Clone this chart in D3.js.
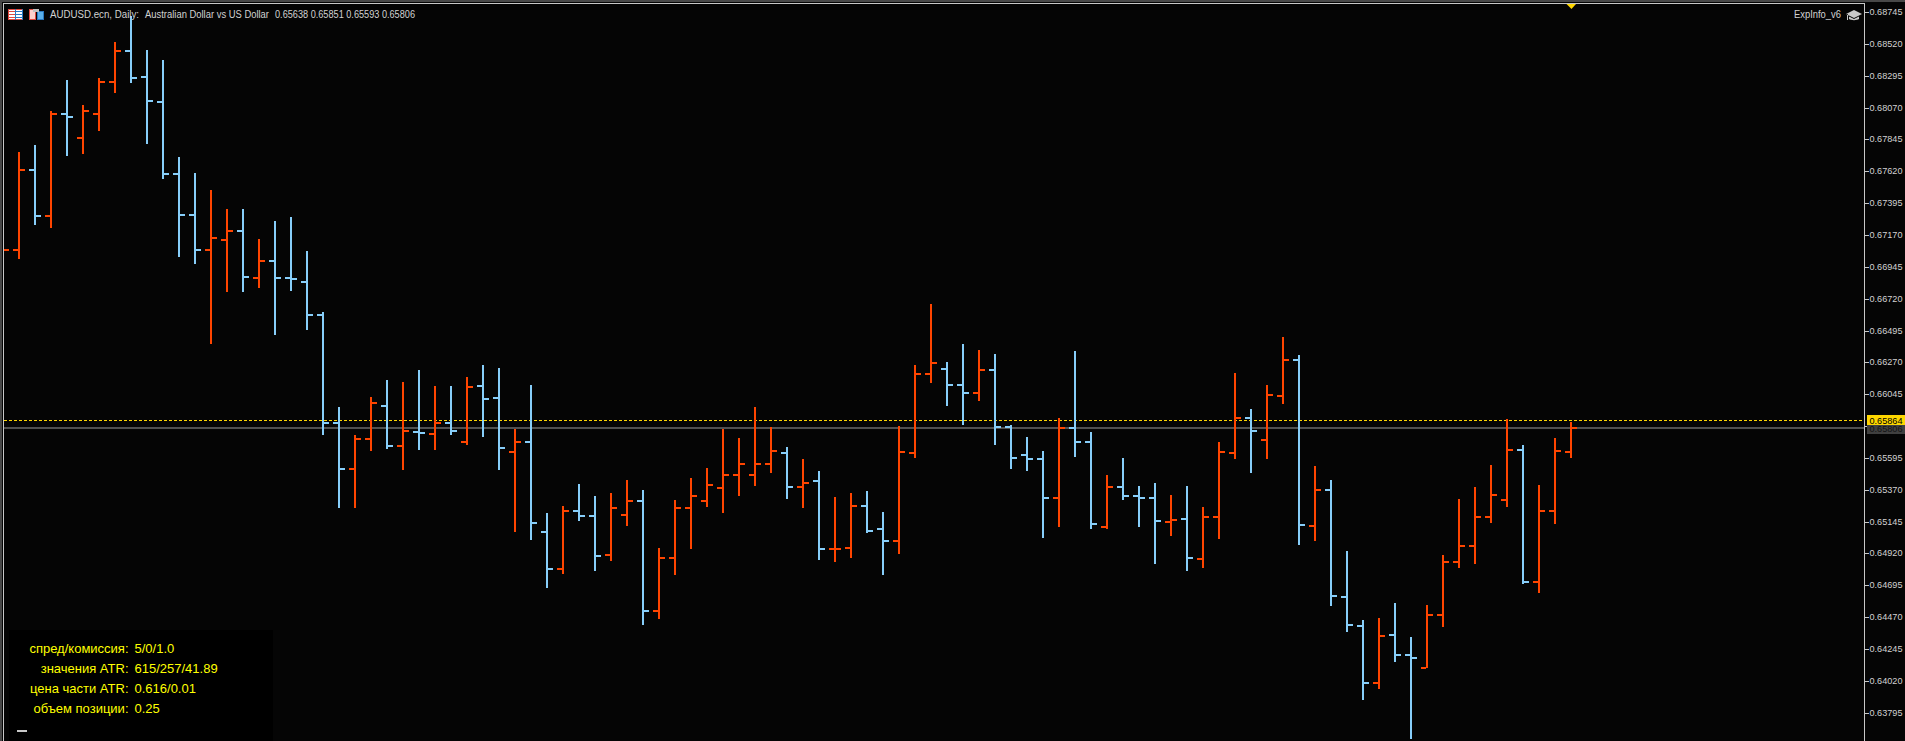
<!DOCTYPE html>
<html><head><meta charset="utf-8">
<script src="https://cdn.jsdelivr.net/npm/d3@7/dist/d3.min.js"></script>
<style>html,body{margin:0;padding:0;background:#050505;overflow:hidden}svg{display:block}</style>
</head><body><svg id="c" width="1905" height="741"></svg>
<script>
const opens=[.67000,.67064,.67629,.67304,.68025,.67855,.68025,.68251,.68470,.68287,.68110,.67601,.67311,.67064,.67135,.67198,.66866,.66986,.66866,.66838,.66605,
.65841,.65516,.65728,.65961,.65679,.65778,.65764,.65841,.65707,.66103,.66018,.65636,.65707,.65071,.64810,.65219,.65184,.64908,.65191,.65290,.64513,.64887,.65241,.65290,.65382,.65474,.65474,.65552,.65629,
.65389,.65431,.64951,.64958,.65255,.65092,.65007,.65629,.66188,.66223,.66110,.66053,.66216,.65813,.65615,.65587,.65311,.65806,.65707,.65106,.65389,.65325,.65311,.65142,.65163,.64880,.65177,.65629,.65877,.65721,.66032,.66287,
.65113,.65368,.64612,.64407,.64004,.64343,.64202,.64110,.64484,.64859,.64972,.65177,.65297,.65651,.64718,.65219,.65638];
const highs=[.67100,.67757,.67806,.68046,.68265,.68089,.68279,.68534,.68718,.68477,.68407,.67721,.67608,.67488,.67354,.67354,.67142,.67269,.67297,.67057,.66626,
.65954,.65757,.66025,.66145,.66131,.66216,.66103,.66103,.66166,.66251,.66230,.65799,.66110,.65205,.65255,.65410,.65325,.65347,.65439,.65368,.64958,.65297,.65453,.65523,.65799,.65735,.65954,.65813,.65672,
.65587,.65502,.65318,.65347,.65361,.65212,.65820,.66251,.66682,.66272,.66400,.66357,.66329,.65827,.65742,.65643,.65877,.66350,.65778,.65474,.65594,.65396,.65417,.65333,.65396,.65248,.65707,.66195,.65940,.66110,.66449,.66322,
.65537,.65439,.64937,.64449,.64463,.64569,.64329,.64555,.64908,.65304,.65389,.65545,.65870,.65686,.65403,.65735,.65851];
const lows=[.66950,.67000,.67241,.67219,.67728,.67742,.67905,.68173,.68244,.67813,.67566,.67014,.66965,.66400,.66767,.66767,.66795,.66463,.66774,.66499,.65757,
.65241,.65241,.65643,.65658,.65509,.65651,.65651,.65757,.65686,.65742,.65509,.65071,.65015,.64675,.64774,.65149,.64795,.64866,.65113,.64414,.64456,.64767,.64951,.65248,.65205,.65325,.65396,.65488,.65304,
.65241,.64873,.64859,.64887,.65064,.64767,.64916,.65594,.66124,.65961,.65827,.65997,.65686,.65516,.65502,.65029,.65106,.65601,.65092,.65092,.65297,.65106,.64845,.65043,.64795,.64817,.65022,.65587,.65488,.65587,.65976,.64979,
.65007,.64548,.64364,.63884,.63962,.64152,.63608,.64110,.64400,.64817,.64845,.65135,.65248,.64704,.64640,.65128,.65593];
const closes=[.67064,.67629,.67304,.68025,.68004,.68046,.68251,.68470,.68279,.68117,.67601,.67311,.67064,.67149,.67198,.66873,.66986,.66866,.66859,.66605,.65841,
.65516,.65728,.65983,.65679,.65785,.65771,.65841,.65785,.66096,.66011,.65665,.65707,.65135,.64810,.65219,.65184,.64901,.65241,.65290,.64513,.64887,.65241,.65325,.65403,.65474,.65552,.65552,.65643,.65389,
.65417,.64951,.64951,.65255,.65078,.65007,.65636,.66188,.66265,.66110,.66053,.66216,.65813,.65594,.65587,.65311,.65806,.65707,.65128,.65389,.65325,.65311,.65149,.65156,.64887,.65177,.65636,.65877,.65785,.66039,.66287,.65121,
.65368,.64619,.64414,.64004,.64336,.64202,.64181,.64484,.64859,.64972,.65177,.65333,.65651,.64718,.65219,.65643,.65806];
const priceTicks=[.68745,.68520,.68295,.68070,.67845,.67620,.67395,.67170,.66945,.66720,.66495,.66270,.66045,.65820,.65595,.65370,.65145,.64920,.64695,.64470,.64245,.64020,.63795];
const askPrice=.65864, bidPrice=.65806;
const headerSymbol="AUDUSD.ecn, Daily:", headerName="Australian Dollar vs US Dollar", headerOhlc="0.65638 0.65851 0.65593 0.65806", expertName="ExpInfo_v6";
const panelLabels=["спред/комиссия:","значения ATR:","цена части ATR:","объем позиции:"];
const panelValues=["5/0/1.0","615/257/41.89","0.616/0.01","0.25"];

const UP="#FF4500",DOWN="#87CEFA",GRID="#c8c8c8",TXT="#d2d2d2",GOLD="#FFD700",SANS="'Liberation Sans'";
const W=1905,H=741,right=1864;
const svg=d3.select("#c");
svg.append("rect").attr("width",W).attr("height",H).attr("fill","#050505");

const x=d3.scaleLinear().domain([0,opens.length-1]).range([3,1571]);
const y=d3.scaleLinear().domain([priceTicks[0],priceTicks[priceTicks.length-1]]).range([12.1,712.6]);
const bars=opens.map((o,i)=>({i,o,h:highs[i],l:lows[i],c:closes[i]}));

svg.append("defs").append("clipPath").attr("id","plot").append("rect").attr("x",4).attr("y",4).attr("width",right-4).attr("height",H-4);
const plot=svg.append("g").attr("clip-path","url(#plot)").attr("shape-rendering","crispEdges");

// price lines sit under the bars
plot.append("rect").attr("x",4).attr("width",right-4).attr("y",Math.round(y(bidPrice))-1).attr("height",2).attr("fill","#505050");
plot.append("line").attr("x1",4).attr("x2",right).attr("y1",Math.round(y(askPrice))+.5).attr("y2",Math.round(y(askPrice))+.5)
  .attr("stroke",GOLD).attr("stroke-width",1).attr("stroke-dasharray","3,2");

const g=plot.selectAll("g.bar").data(bars).join("g").attr("class","bar").attr("fill",d=>d.c>=d.o?UP:DOWN);
g.append("rect").attr("x",d=>x(d.i)-1).attr("width",2).attr("y",d=>Math.round(y(d.h))).attr("height",d=>Math.round(y(d.l))-Math.round(y(d.h)));
g.append("rect").attr("x",d=>x(d.i)-6).attr("width",5).attr("y",d=>Math.round(y(d.o))-1).attr("height",2);
g.append("rect").attr("x",d=>x(d.i)+1).attr("width",5).attr("y",d=>Math.round(y(d.c))-1).attr("height",2);

// frame
const f=svg.append("g").attr("shape-rendering","crispEdges");
f.append("rect").attr("x",0).attr("y",0).attr("width",W).attr("height",2).attr("fill","#484848");
f.append("rect").attr("x",0).attr("y",0).attr("width",2).attr("height",H).attr("fill","#484848");
f.append("rect").attr("x",3).attr("y",3).attr("width",right-3+1).attr("height",1).attr("fill",GRID);
f.append("rect").attr("x",3).attr("y",3).attr("width",1).attr("height",H-3).attr("fill",GRID);
f.append("rect").attr("x",right).attr("y",3).attr("width",1).attr("height",H-3).attr("fill",GRID);

function txt(parent,s,px,py,len,opt={}){
  const t=parent.append("text").attr("x",px).attr("y",py).text(s)
    .attr("font-family",opt.font||SANS).attr("font-size",opt.size||9.8).attr("fill",opt.fill||TXT)
    .attr("text-anchor",opt.anchor||"start");
  if(len) t.attr("textLength",len).attr("lengthAdjust","spacingAndGlyphs");
  return t;
}

// price axis
const axis=svg.append("g");
axis.selectAll("rect").data(priceTicks).join("rect").attr("x",right+1).attr("width",4).attr("height",1)
  .attr("y",d=>Math.round(y(d))).attr("fill",GRID).attr("shape-rendering","crispEdges");
priceTicks.filter(p=>p!==.65820).forEach(p=>txt(axis,p.toFixed(5),1869.5,Math.round(y(p))+3,33));

// price labels
const lab=svg.append("g");
lab.append("rect").attr("x",1867).attr("y",Math.round(y(bidPrice))-3).attr("width",38).attr("height",9).attr("fill","#404040").attr("shape-rendering","crispEdges");
txt(lab,bidPrice.toFixed(5),1869.5,Math.round(y(bidPrice))+4,33,{fill:"#141414"});
lab.append("rect").attr("x",1867).attr("y",Math.round(y(askPrice))-5).attr("width",38).attr("height",10).attr("fill",GOLD).attr("shape-rendering","crispEdges");
txt(lab,askPrice.toFixed(5),1869.5,Math.round(y(askPrice))+4,33,{fill:"#000"});

// current-bar marker
svg.append("path").attr("d",`M${x(98)-4.5},4H${x(98)+5}L${x(98)+.5},9Z`).attr("fill",GOLD);

// header
const hd=svg.append("g");
function icon(ix,col1,col2){
  const a=hd.append("g").attr("shape-rendering","crispEdges");
  a.append("rect").attr("x",ix+.5).attr("y",9.5).attr("width",14).attr("height",10).attr("fill","#fff").attr("stroke",col1);
  a.append("rect").attr("x",ix+8).attr("y",10).attr("width",6).attr("height",9).attr("fill","#fff");
  [12,15,18].forEach(v=>{a.append("rect").attr("x",ix+1).attr("y",v-1).attr("width",6).attr("height",1).attr("fill",col1);
    a.append("rect").attr("x",ix+8).attr("y",v-1).attr("width",6).attr("height",1).attr("fill",col2);});
  a.append("rect").attr("x",ix+7).attr("y",9).attr("width",1).attr("height",11).attr("fill",col2);
  a.append("rect").attr("x",ix+14).attr("y",9).attr("width",1).attr("height",11).attr("fill",col2);
}
icon(8,"#e04a40","#2a78c0");
const i2=hd.append("g").attr("shape-rendering","crispEdges");
i2.append("rect").attr("x",29.5).attr("y",9.5).attr("width",6).attr("height",10).attr("fill","#fbd0cc").attr("stroke","#e04a40");
i2.append("rect").attr("x",37.5).attr("y",11.5).attr("width",6).attr("height",8).attr("fill","#5ab0ea").attr("stroke","#2a78c0");
i2.append("rect").attr("x",33).attr("y",9).attr("width",6).attr("height",3).attr("fill","#c0c0c0");
txt(hd,headerSymbol,50,18,89,{size:10});
txt(hd,headerName,145,18,124,{size:10});
txt(hd,headerOhlc,275,18,140,{size:10});
txt(hd,expertName,1794,18,47,{size:10});
hd.append("path").attr("d","M1846,14L1854,10L1862,14L1854,18Z M1849,16.5V19C1851,20.5 1857,20.5 1859,19V16.5L1854,19Z M1847,14V20H1848V14Z").attr("fill","#c8c8c8");

// info panel
const pn=svg.append("g");
pn.append("rect").attr("x",9).attr("y",630).attr("width",264).attr("height",111).attr("fill","#000").attr("shape-rendering","crispEdges");
panelLabels.forEach((s,i)=>txt(pn,s,128.5,652.5+i*20,null,{size:13,fill:"#FFFF00",anchor:"end"}));
panelValues.forEach((s,i)=>txt(pn,s,134.5,652.5+i*20,null,{size:13,fill:"#FFFF00"}));
pn.append("rect").attr("x",17).attr("y",730).attr("width",10).attr("height",2).attr("fill","#c8c8c8").attr("shape-rendering","crispEdges");
</script></body></html>
